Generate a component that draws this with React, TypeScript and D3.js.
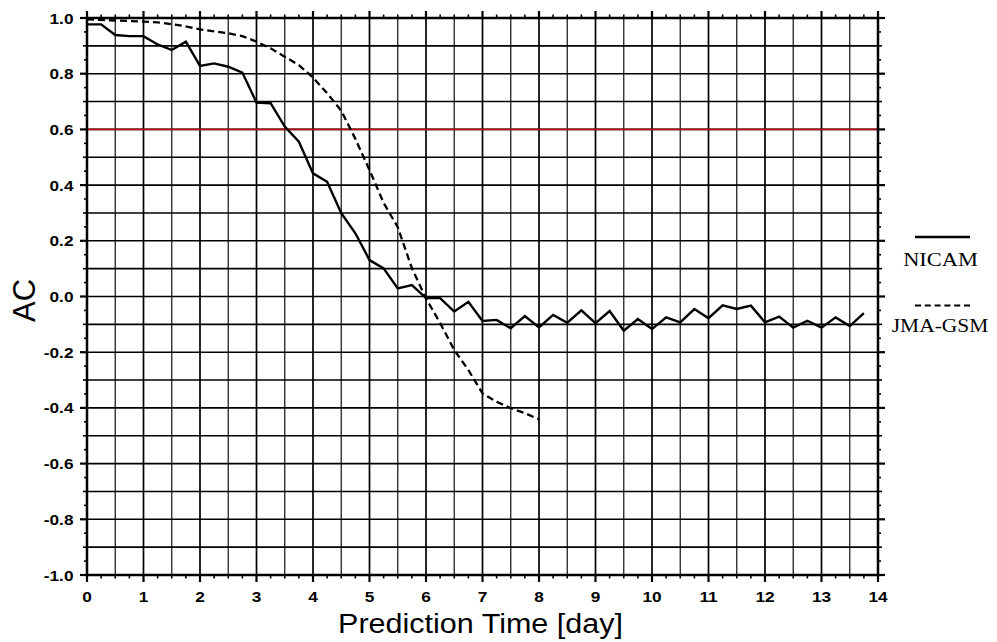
import React from "react";
import * as d3 from "d3";

const nicamDays = d3.range(0, 14, 0.25);
const nicamAC = [
  0.977, 0.977, 0.939, 0.935, 0.935, 0.905, 0.885, 0.915, 0.828, 0.837, 0.825, 0.804,
  0.696, 0.694, 0.61, 0.556, 0.442, 0.412, 0.299, 0.227, 0.131, 0.101, 0.029, 0.041,
  -0.006, -0.006, -0.054, -0.019, -0.088, -0.084, -0.114, -0.07, -0.111, -0.066, -0.094, -0.05,
  -0.096, -0.052, -0.123, -0.081, -0.117, -0.075, -0.093, -0.045, -0.078, -0.032, -0.045, -0.033,
  -0.093, -0.072, -0.112, -0.087, -0.112, -0.075, -0.106, -0.06,
];
const jmaDays = d3.range(0, 8.01, 0.25);
const jmaAC = [
  0.995, 0.993, 0.991, 0.989, 0.987, 0.984, 0.978, 0.97, 0.959, 0.952, 0.945, 0.935,
  0.915, 0.891, 0.861, 0.831, 0.786, 0.73, 0.667, 0.566, 0.454, 0.336, 0.249, 0.102,
  -0.007, -0.095, -0.192, -0.264, -0.348, -0.378, -0.401, -0.419, -0.441,
];
const xTicks = d3.range(0, 15, 1);
const yTicks = d3.range(-1, 1.0001, 0.2).map((v) => Math.round(v * 10) / 10);
const refLine = 0.6;
const seriesNames = ["NICAM", "JMA-GSM"];

export default function App() {
  const W = 997, H = 642;
  const x = d3.scaleLinear().domain([0, 14]).range([87, 878]);
  const y = d3.scaleLinear().domain([1, -1]).range([18, 575]);
  const mk = (days: number[], vals: number[]) =>
    d3.line<number>().x((d, i) => x(days[i])).y((d) => y(d))(vals) as string;

  const vGrid = d3.range(0, 14.01, 0.5);
  const hGrid = d3.range(-1, 1.001, 0.1).map((v) => Math.round(v * 10) / 10);
  const xMinor = d3.range(0, 14.01, 0.25);
  const yMinor = d3.range(-1, 1.001, 0.05).map((v) => Math.round(v * 100) / 100);
  const isMajorY = (v: number) => Math.abs(Math.round(v * 5) - v * 5) < 1e-6;
  const isTenthY = (v: number) => Math.abs(Math.round(v * 10) - v * 10) < 1e-6;
  const [x0, x1] = x.range();
  const [y0, y1] = y.range();
  const sans = "'Liberation Sans', Arial, Helvetica, sans-serif";
  const serif = "'Liberation Serif', 'Times New Roman', serif";

  return (
    <svg width={W} height={H} style={{ position: "absolute", left: 0, top: 0, background: "#fff" }}>
      <rect x={0} y={0} width={W} height={H} fill="#fff" />
      {vGrid.map((d) => (
        <line key={"vg" + d} x1={x(d)} x2={x(d)} y1={y0} y2={y1}
          stroke={Number.isInteger(d) ? "#000" : "#222"} strokeWidth={Number.isInteger(d) ? 1.7 : 1.3} />
      ))}
      {hGrid.map((v) => (
        <line key={"hg" + v} x1={x0} x2={x1} y1={y(v)} y2={y(v)} stroke="#000" strokeWidth={1.6} />
      ))}
      <line x1={x0} x2={x1} y1={y(refLine)} y2={y(refLine)} stroke="#b01010" strokeWidth={1.7} />
      <path d={mk(jmaDays, jmaAC)} fill="none" stroke="#000" strokeWidth={2.3} strokeDasharray="7,4" />
      <path d={mk(nicamDays, nicamAC)} fill="none" stroke="#000" strokeWidth={2.4} strokeLinejoin="miter" />
      <rect x={x0} y={y0} width={x1 - x0} height={y1 - y0} fill="none" stroke="#000" strokeWidth={2.5} />
      {xMinor.map((d) => {
        const major = Math.abs(d - Math.round(d)) < 1e-6;
        const len = major ? 7 : 3.5;
        return (
          <g key={"xt" + d}>
            <line x1={x(d)} x2={x(d)} y1={y1} y2={y1 + len} stroke="#000" strokeWidth={major ? 2.2 : 1.6} />
            <line x1={x(d)} x2={x(d)} y1={y0} y2={y0 - len} stroke="#000" strokeWidth={major ? 2.2 : 1.6} />
          </g>
        );
      })}
      {xTicks.map((d) => (
        <text key={"xl" + d} transform={`translate(${x(d)},602) scale(1.15,1)`} textAnchor="middle"
          fontFamily={sans} fontSize={15} fontWeight="bold" fill="#000">
          {d}
        </text>
      ))}
      {yMinor.map((v) => {
        const major = isMajorY(v);
        const len = major ? 7 : isTenthY(v) ? 4 : 3;
        return (
          <g key={"yt" + v}>
            <line x1={x0} x2={x0 - len} y1={y(v)} y2={y(v)} stroke="#000" strokeWidth={major ? 2.2 : 1.6} />
            <line x1={x1} x2={x1 + len} y1={y(v)} y2={y(v)} stroke="#000" strokeWidth={major ? 2.2 : 1.6} />
          </g>
        );
      })}
      {yTicks.map((v) => (
        <text key={"yl" + v} transform={`translate(73.5,${y(v) + 5.5}) scale(1.15,1)`} textAnchor="end"
          fontFamily={sans} fontSize={15} fontWeight="bold" fill="#000">
          {v.toFixed(1)}
        </text>
      ))}
      <text transform={`translate(${(x0 + x1) / 2 - 2},633) scale(1.09,1)`} textAnchor="middle"
        fontFamily={sans} fontSize={28} fill="#000">
        Prediction Time [day]
      </text>
      <text transform={`translate(35,${y(0) + 4}) rotate(-90)`} textAnchor="middle" fontFamily={sans} fontSize={31} fill="#000">
        AC
      </text>
      <line x1={915} x2={970} y1={237} y2={237} stroke="#000" strokeWidth={2.4} />
      <text transform={`translate(940.5,266) scale(1.15,1)`} textAnchor="middle" fontFamily={serif} fontSize={19.5} fill="#000">
        {seriesNames[0]}
      </text>
      <line x1={915} x2={970} y1={305.5} y2={305.5} stroke="#000" strokeWidth={2.2} strokeDasharray="6,3.8" />
      <text transform={`translate(940,332) scale(1.1,1)`} textAnchor="middle" fontFamily={serif} fontSize={19.5} fill="#000">
        {seriesNames[1]}
      </text>
    </svg>
  );
}
